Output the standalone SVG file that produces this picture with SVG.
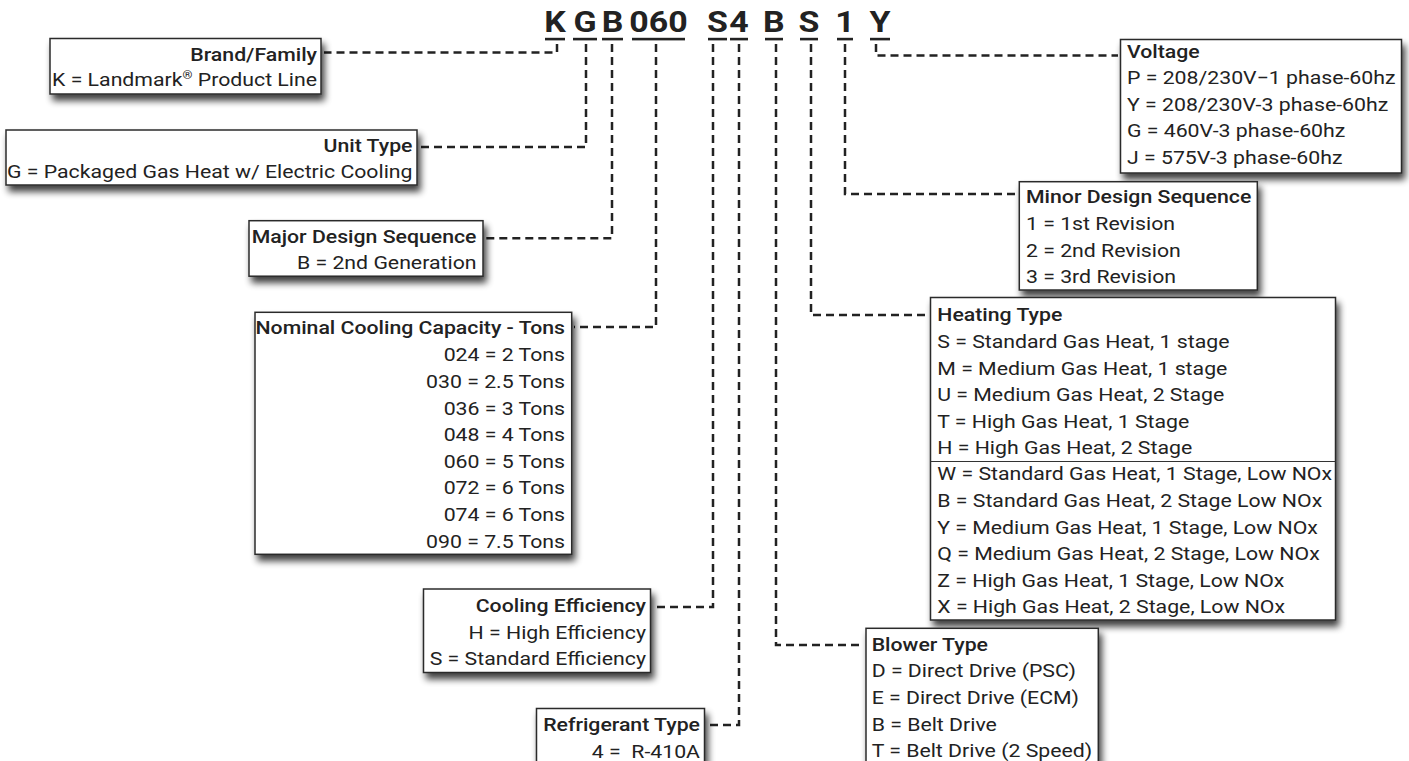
<svg xmlns="http://www.w3.org/2000/svg" width="1409" height="761" viewBox="0 0 1409 761">
<defs>
<filter id="sh" x="-10%" y="-15%" width="130%" height="150%">
<feGaussianBlur in="SourceAlpha" stdDeviation="3.5"/>
<feOffset dx="3" dy="6"/>
<feComponentTransfer><feFuncA type="linear" slope="0.75"/></feComponentTransfer>
<feMerge><feMergeNode/><feMergeNode in="SourceGraphic"/></feMerge>
</filter>
<style>
.box{fill:#fff;stroke:#2b2b2b;stroke-width:1.5;filter:url(#sh)}
.t{font-family:Roboto,"Liberation Sans",sans-serif;font-size:18.5px;fill:#222}
.b{font-weight:500}
.r{text-anchor:end}
.code{font-family:Roboto,"Liberation Sans",sans-serif;font-size:29.5px;font-weight:700;fill:#222;text-anchor:middle}
.ul{fill:#222}
.sep{stroke:#333;stroke-width:1.2}
</style>
</defs>
<rect width="1409" height="761" fill="#fff"/>

<g id="code">
<g transform="scale(1.15,1)">
<text class="code" x="482.6" y="32.5">K</text>
<text class="code" x="508.7" y="32.5">G</text>
<text class="code" x="532.6" y="32.5">B</text>
<text class="code" x="572.6" y="32.5">060</text>
<text class="code" x="623.9" y="32.5">S</text>
<text class="code" x="642.6" y="32.5">4</text>
<text class="code" x="673.0" y="32.5">B</text>
<text class="code" x="703.5" y="32.5">S</text>
<text class="code" x="734.8" y="32.5">1</text>
<text class="code" x="765.2" y="32.5">Y</text>
</g>
<rect class="ul" x="545" y="37.8" width="20" height="2.6"/>
<rect class="ul" x="573" y="37.8" width="24" height="2.6"/>
<rect class="ul" x="602" y="37.8" width="21" height="2.6"/>
<rect class="ul" x="632" y="37.8" width="53" height="2.6"/>
<rect class="ul" x="708" y="37.8" width="19" height="2.6"/>
<rect class="ul" x="730" y="37.8" width="18" height="2.6"/>
<rect class="ul" x="765" y="37.8" width="18" height="2.6"/>
<rect class="ul" x="800" y="37.8" width="18" height="2.6"/>
<rect class="ul" x="837" y="37.8" width="16" height="2.6"/>
<rect class="ul" x="870" y="37.8" width="20" height="2.6"/>
</g>

<g id="connectors" fill="none" stroke="#222" stroke-width="2.5" stroke-dasharray="8 5">
<path d="M557,44 V52.5 H324"/>
<path d="M586,44 V147 H419"/>
<path d="M612,44 V238.3 H485.5"/>
<path d="M656,44 V327 H574"/>
<path d="M713,44 V607 H653"/>
<path d="M739,44 V725 H707"/>
<path d="M776,44 V645 H864"/>
<path d="M811,44 V315 H928"/>
<path d="M845,44 V194 H1017"/>
<path d="M876,44 V55.5 H1118"/>
</g>

<g id="brand">
<rect class="box" x="50" y="38.5" width="271" height="55.5"/>
<g transform="translate(317,0) scale(1.15,1)">
<text class="t b r" x="0" y="61">Brand/Family</text>
<text class="t r" x="0" y="86">K = Landmark<tspan font-size="11" dy="-7">®</tspan><tspan dy="7"> Product Line</tspan></text>
</g>
</g>

<g id="unit-type">
<rect class="box" x="6" y="130" width="411" height="55"/>
<g transform="translate(412.5,0) scale(1.15,1)">
<text class="t b r" x="0" y="152.5">Unit Type</text>
<text class="t r" x="0" y="178.5">G = Packaged Gas Heat w/ Electric Cooling</text>
</g>
</g>

<g id="major-design">
<rect class="box" x="249" y="220.7" width="234" height="55.5"/>
<g transform="translate(476.5,0) scale(1.15,1)">
<text class="t b r" x="0" y="243.3">Major Design Sequence</text>
<text class="t r" x="0" y="269.5">B = 2nd Generation</text>
</g>
</g>

<g id="nominal-capacity">
<rect class="box" x="255" y="312.3" width="316.7" height="242"/>
<g transform="translate(565,0) scale(1.15,1)">
<text class="t b r" x="0" y="334.5">Nominal Cooling Capacity - Tons</text>
<text class="t r" x="0" y="361.5">024 = 2 Tons</text>
<text class="t r" x="0" y="388.1">030 = 2.5 Tons</text>
<text class="t r" x="0" y="414.7">036 = 3 Tons</text>
<text class="t r" x="0" y="441.3">048 = 4 Tons</text>
<text class="t r" x="0" y="467.9">060 = 5 Tons</text>
<text class="t r" x="0" y="494.5">072 = 6 Tons</text>
<text class="t r" x="0" y="521.1">074 = 6 Tons</text>
<text class="t r" x="0" y="547.7">090 = 7.5 Tons</text>
</g>
</g>

<g id="cooling-efficiency">
<rect class="box" x="423.5" y="589" width="227" height="83.5"/>
<g transform="translate(646,0) scale(1.15,1)">
<text class="t b r" x="0" y="612">Cooling Efficiency</text>
<text class="t r" x="0" y="638.6">H = High Efficiency</text>
<text class="t r" x="0" y="665.2">S = Standard Efficiency</text>
</g>
</g>

<g id="refrigerant">
<rect class="box" x="536.5" y="708.5" width="168" height="62"/>
<g transform="translate(700,0) scale(1.15,1)">
<text class="t b r" x="0" y="731.5">Refrigerant Type</text>
<text class="t r" x="0" y="758" xml:space="preserve">4 =  R-410A</text>
</g>
</g>

<g id="voltage">
<rect class="box" x="1120.5" y="39.5" width="281" height="133.5"/>
<g transform="translate(1127,0) scale(1.15,1)">
<text class="t b" x="0" y="58">Voltage</text>
<text class="t" x="0" y="84">P = 208/230V−1 phase-60hz</text>
<text class="t" x="0" y="110.6">Y = 208/230V-3 phase-60hz</text>
<text class="t" x="0" y="137.2">G = 460V-3 phase-60hz</text>
<text class="t" x="0" y="163.8">J = 575V-3 phase-60hz</text>
</g>
</g>

<g id="minor-design">
<rect class="box" x="1019.3" y="181.7" width="238" height="108.3"/>
<g transform="translate(1026,0) scale(1.15,1)">
<text class="t b" x="0" y="203.3">Minor Design Sequence</text>
<text class="t" x="0" y="230">1 = 1st Revision</text>
<text class="t" x="0" y="256.6">2 = 2nd Revision</text>
<text class="t" x="0" y="283.2">3 = 3rd Revision</text>
</g>
</g>

<g id="heating-type">
<rect class="box" x="930.5" y="297.5" width="405" height="322.5"/>
<line class="sep" x1="930.5" y1="461.5" x2="1335.5" y2="461.5"/>
<g transform="translate(937.3,0) scale(1.15,1)">
<text class="t b" x="0" y="321">Heating Type</text>
<text class="t" x="0" y="348">S = Standard Gas Heat, 1 stage</text>
<text class="t" x="0" y="374.6">M = Medium Gas Heat, 1 stage</text>
<text class="t" x="0" y="401.2">U = Medium Gas Heat, 2 Stage</text>
<text class="t" x="0" y="427.8">T = High Gas Heat, 1 Stage</text>
<text class="t" x="0" y="454.4">H = High Gas Heat, 2 Stage</text>
<text class="t" x="0" y="480.5">W = Standard Gas Heat, 1 Stage, Low NOx</text>
<text class="t" x="0" y="507.1">B = Standard Gas Heat, 2 Stage Low NOx</text>
<text class="t" x="0" y="533.7">Y = Medium Gas Heat, 1 Stage, Low NOx</text>
<text class="t" x="0" y="560.3">Q = Medium Gas Heat, 2 Stage, Low NOx</text>
<text class="t" x="0" y="586.9">Z = High Gas Heat, 1 Stage, Low NOx</text>
<text class="t" x="0" y="613.5">X = High Gas Heat, 2 Stage, Low NOx</text>
</g>
</g>

<g id="blower-type">
<rect class="box" x="866" y="628.3" width="232.3" height="142"/>
<g transform="translate(871.7,0) scale(1.15,1)">
<text class="t b" x="0" y="650.7">Blower Type</text>
<text class="t" x="0" y="677.3">D = Direct Drive (PSC)</text>
<text class="t" x="0" y="704">E = Direct Drive (ECM)</text>
<text class="t" x="0" y="730.6">B = Belt Drive</text>
<text class="t" x="0" y="757.2">T = Belt Drive (2 Speed)</text>
</g>
</g>
</svg>
